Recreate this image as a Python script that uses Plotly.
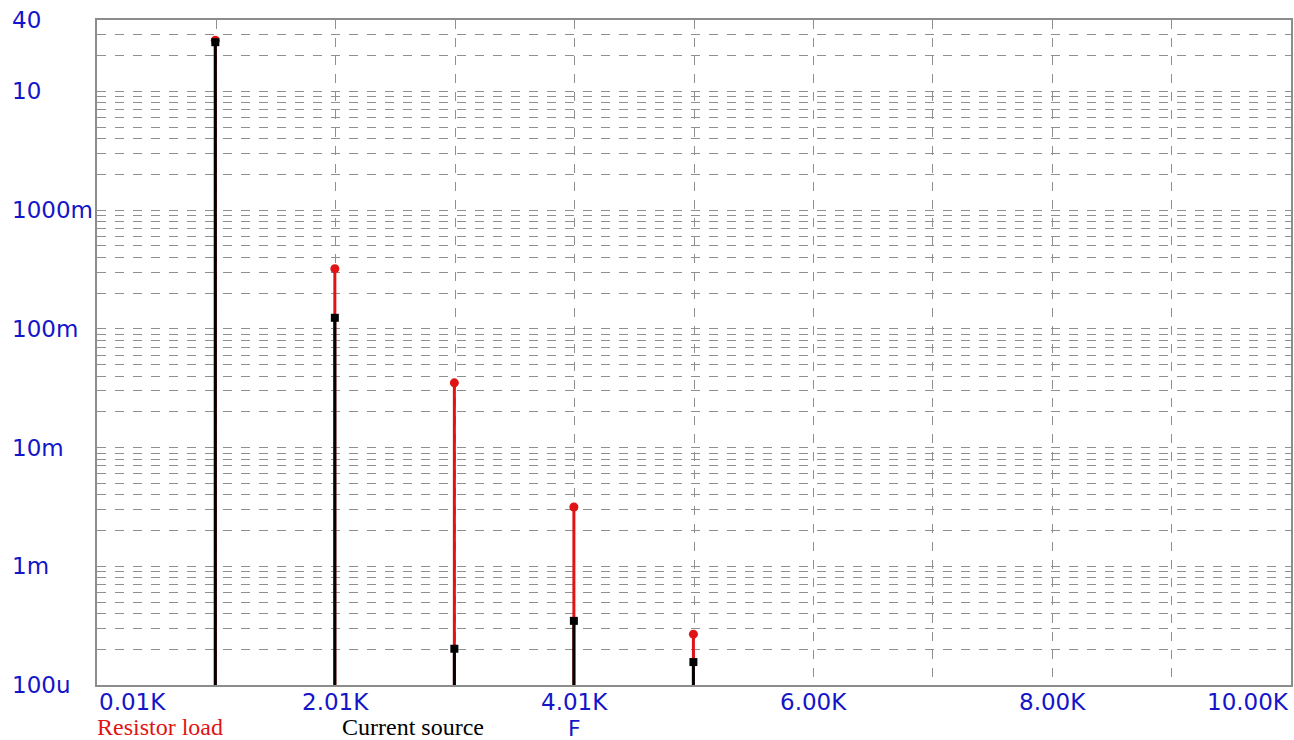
import plotly.graph_objects as go
import math

# ---- data ----
freqs = [1000, 2000, 3000, 4000, 5000]              # Hz (harmonics)
resistor_load = [27.0, 0.321, 0.0351, 0.00316, 0.000268]
current_source = [26.0, 0.124, 0.000202, 0.000347, 0.000156]

Y_MIN, Y_MAX = 1e-4, 40
X_MIN, X_MAX = 10, 10000
x_grid = [10 + 999 * k for k in range(11)]
x_tick_vals = [10, 2008, 4006, 6004, 8002, 10000]
x_tick_text = ["0.01K", "2.01K", "4.01K", "6.00K", "8.00K", "10.00K"]
y_tick_vals = [40, 10, 1, 0.1, 0.01, 0.001, 0.0001]
y_tick_text = ["40", "10", "1000m", "100m", "10m", "1m", "100u"]
y_grid = [m * 10.0 ** n for n in range(-4, 2) for m in range(1, 10)] + [20, 30]
y_grid = [v for v in y_grid if Y_MIN <= v <= Y_MAX]

BLUE = "#1414c8"
RED = "#e01414"
GRID = "#8f8f8f"


def stems(xs, ys):
    sx, sy = [], []
    for x, y in zip(xs, ys):
        sx += [x, x, None]
        sy += [Y_MIN, y, None]
    return sx, sy


fig = go.Figure()
rx, ry = stems(freqs, resistor_load)
fig.add_trace(go.Scatter(x=rx, y=ry, mode="lines", line=dict(color=RED, width=3),
                         hoverinfo="skip", showlegend=False))
fig.add_trace(go.Scatter(x=freqs, y=resistor_load, mode="markers",
                         marker=dict(color=RED, size=9, symbol="circle"),
                         name="Resistor load", showlegend=False))
cx, cy = stems(freqs, current_source)
fig.add_trace(go.Scatter(x=cx, y=cy, mode="lines", line=dict(color="black", width=3),
                         hoverinfo="skip", showlegend=False))
fig.add_trace(go.Scatter(x=freqs, y=current_source, mode="markers",
                         marker=dict(color="black", size=8, symbol="square"),
                         name="Current source", showlegend=False))

fig.update_xaxes(range=[X_MIN, X_MAX], tickmode="array", tickvals=x_grid,
                 showticklabels=False, ticks="", showgrid=True, gridcolor=GRID,
                 griddash="dash", gridwidth=1, showline=True, mirror=True,
                 linecolor="#8c8c8c", linewidth=2, zeroline=False)
fig.update_yaxes(type="log", range=[math.log10(Y_MIN), math.log10(Y_MAX)],
                 tickmode="array", tickvals=y_grid, showticklabels=False, ticks="",
                 showgrid=True, gridcolor=GRID, griddash="dash", gridwidth=1,
                 showline=True, mirror=True, linecolor="#8c8c8c", linewidth=2,
                 zeroline=False)

annotations = []
W_PLOT = 1294 - 97 - 1
for v, t in zip(y_tick_vals, y_tick_text):
    annotations.append(dict(x=(10 - 97) / W_PLOT, xref="paper", y=math.log10(v), yref="y",
                            text=t, showarrow=False, xanchor="left", yanchor="middle",
                            font=dict(family="DejaVu Sans", size=23, color=BLUE)))
for i, (v, t) in enumerate(zip(x_tick_vals, x_tick_text)):
    anchor = "left" if i == 0 else ("right" if i == len(x_tick_vals) - 1 else "center")
    annotations.append(dict(x=v, xref="x", y=0, yref="paper", yshift=-17, text=t,
                            showarrow=False, xanchor=anchor, yanchor="middle",
                            font=dict(family="DejaVu Sans", size=23, color=BLUE)))
legend_font_size = 24
annotations.append(dict(x=(95 - 97) / W_PLOT, xref="paper", y=0, yref="paper", yshift=-57,
                        text="Resistor load", showarrow=False, xanchor="left", yanchor="bottom",
                        font=dict(family="Liberation Serif", size=legend_font_size, color=RED)))
annotations.append(dict(x=(340 - 97) / W_PLOT, xref="paper", y=0, yref="paper", yshift=-57,
                        text="Current source", showarrow=False, xanchor="left", yanchor="bottom",
                        font=dict(family="Liberation Serif", size=legend_font_size, color="black")))
annotations.append(dict(x=(575 - 97) / W_PLOT, xref="paper", y=0, yref="paper", yshift=-58,
                        text="F", showarrow=False, xanchor="center", yanchor="bottom",
                        font=dict(family="DejaVu Sans", size=22, color=BLUE)))

fig.update_layout(width=1294, height=740, margin=dict(l=97, r=1, t=20, b=55),
                  paper_bgcolor="white", plot_bgcolor="white", annotations=annotations,
                  showlegend=False)

fig.write_html("out.html", config={"responsive": False, "displayModeBar": False},
               post_script="document.body.style.margin='0';"
                           "document.body.style.overflow='hidden';")
